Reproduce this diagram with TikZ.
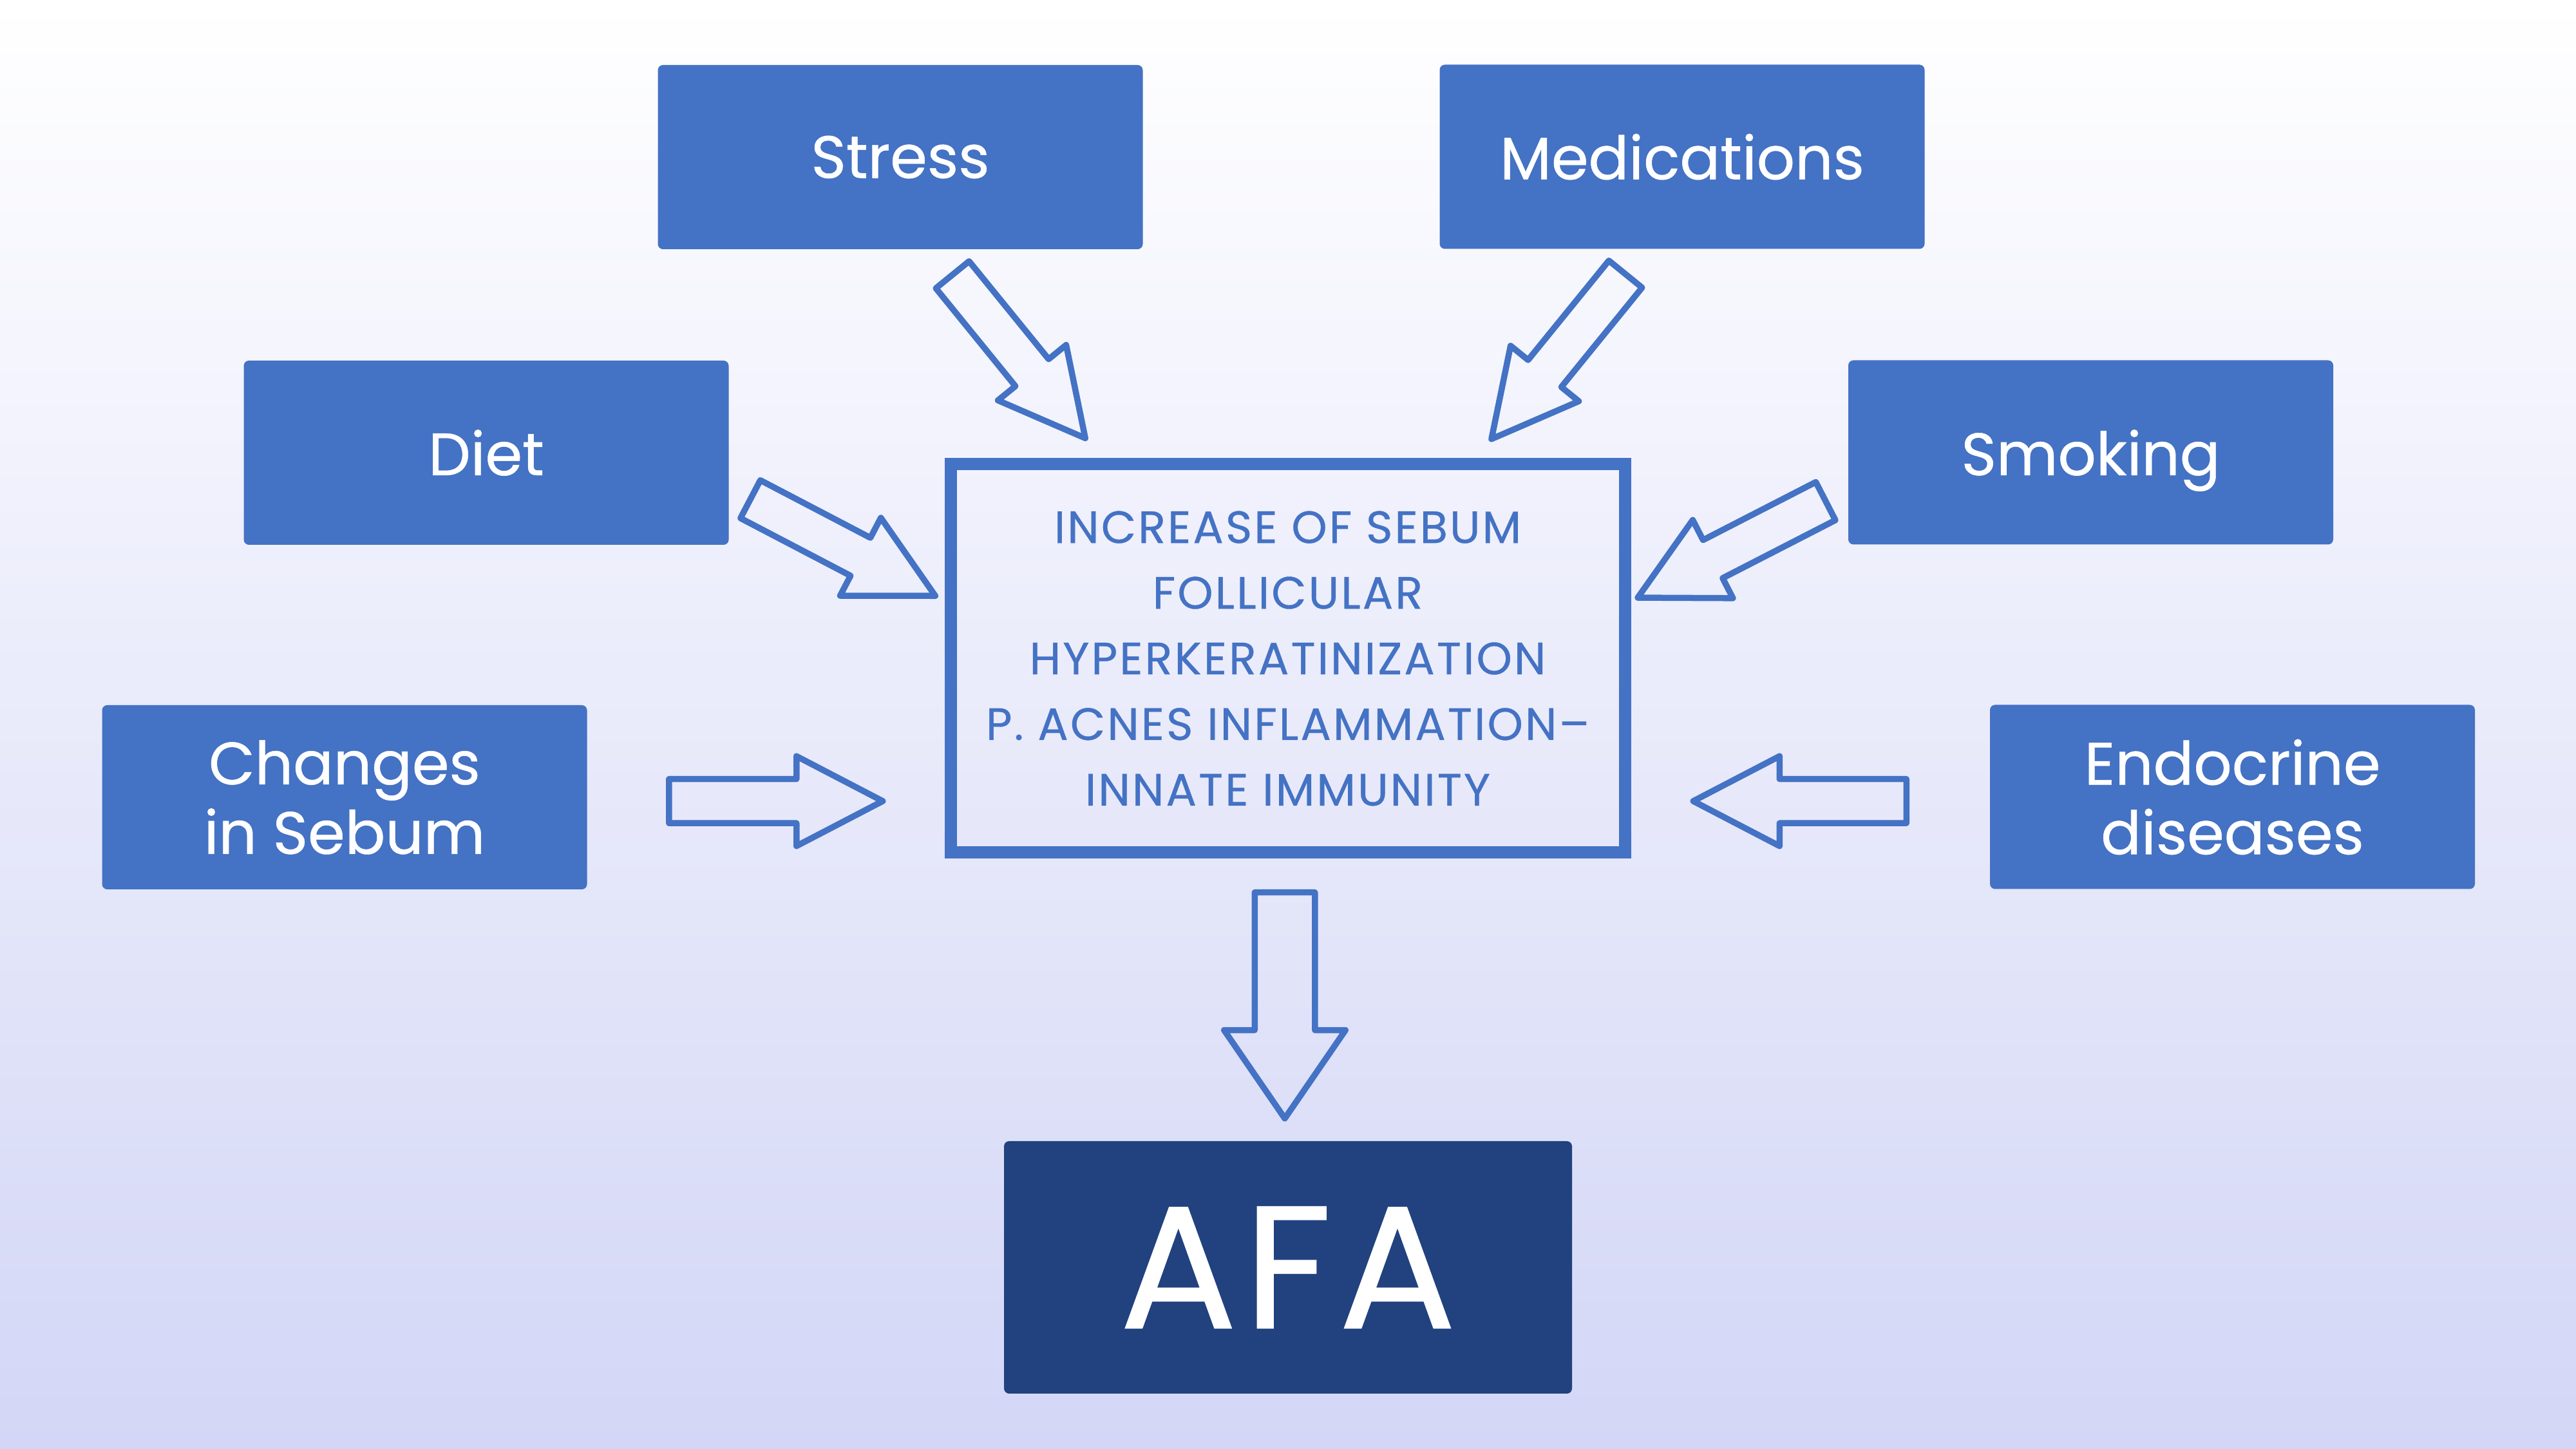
\documentclass[tikz,border=0pt]{standalone}
\usepackage{fontspec}
\setmainfont{Poppins}
\newfontfamily\labelfont{Poppins}[FakeBold=0.6]
\newfontfamily\causefont{Poppins}[FakeBold=0.5, LetterSpace=4.5]
\newfontfamily\afafont{Poppins}[FakeBold=0.6, LetterSpace=4]
\usetikzlibrary{shapes.arrows}
\definecolor{boxblue}{HTML}{4472C4}
\definecolor{afablue}{HTML}{21427F}
\definecolor{bgbottom}{HTML}{D3D6F6}
\begin{document}
\begin{tikzpicture}[
    every node/.style={align=center},
    factor box/.style={fill=boxblue, text=white, rounded corners=0.8mm, minimum width=7.53cm, minimum height=2.86cm, inner sep=0pt, font=\labelfont\fontsize{26.4}{30.7}\selectfont},
    cause box/.style={draw=boxblue, line width=0.19cm, text=boxblue, minimum width=10.47cm, minimum height=6.03cm, inner sep=0pt, font=\causefont\fontsize{20}{29}\selectfont},
    result box/.style={fill=afablue, text=white, rounded corners=0.8mm, minimum width=8.82cm, minimum height=3.92cm, inner sep=0pt, font=\afafont\fontsize{77}{80}\selectfont},
    block arrow/.style={single arrow, draw=boxblue, line width=0.095cm, line join=round, inner xsep=0pt, inner ysep=0.285cm, anchor=tail, single arrow head extend=0.35cm, single arrow tip angle=55, minimum height=3.27cm},
    ]
\useasboundingbox (0,0) rectangle (40,22.5);
\shade[top color=white, bottom color=bgbottom] (0,0) rectangle (40,22.5);
\node[factor box] (stress) at (13.98,20.06) {Stress};
\node[factor box] (medications) at (26.12,20.065) {Medications};
\node[factor box] (diet) at (7.55,15.47) {Diet};
\node[factor box, text depth=0pt] (smoking) at (32.465,15.475) {Smoking};
\node[factor box] (changes) at (5.35,10.12) {Changes\\in Sebum};
\node[factor box] (endocrine) at (34.665,10.125) {Endocrine\\diseases};
\node[cause box] (sebum) at (19.995,12.275) {INCREASE OF SEBUM\\FOLLICULAR\\HYPERKERATINIZATION\\P. ACNES INFLAMMATION–\\INNATE IMMUNITY};
\node[result box] (afa) at (20.0,2.82) {AFA};
\node[block arrow, rotate=-50.9] (stressArrow) at (14.76,18.27) {};
\node[block arrow, rotate=230.9, minimum height=3.30cm] (medicationsArrow) at (25.27,18.28) {};
\node[block arrow, rotate=-27.6, minimum height=3.24cm] (dietArrow) at (11.61,14.77) {};
\node[block arrow, rotate=207.2, minimum height=3.28cm] (smokingArrow) at (28.39,14.74) {};
\node[block arrow, minimum height=3.32cm, inner ysep=0.295cm, single arrow head extend=0.355cm] (changesArrow) at (10.34,10.06) {};
\node[block arrow, rotate=180, minimum height=3.31cm, inner ysep=0.295cm, single arrow head extend=0.355cm] (endocrineArrow) at (29.65,10.06) {};
\node[block arrow, rotate=-90, minimum height=3.51cm, inner ysep=0.42cm, single arrow head extend=0.475cm, single arrow tip angle=69] (afaArrow) at (19.95,8.69) {};
\end{tikzpicture}
\end{document}
